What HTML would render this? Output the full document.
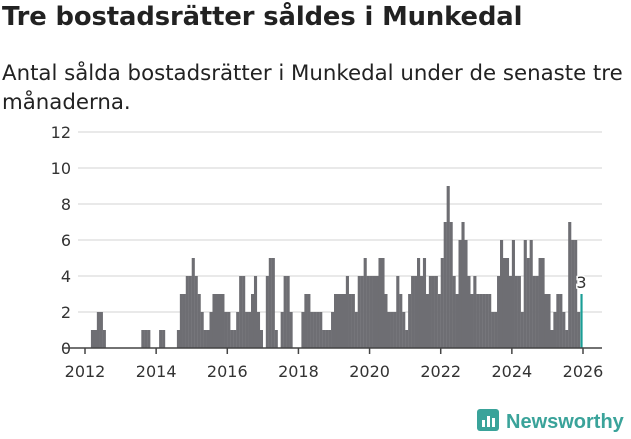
<!DOCTYPE html>
<html><head><meta charset="utf-8"><style>
body{margin:0;width:631px;height:439px;background:#fff;font-family:"DejaVu Sans","Liberation Sans",sans-serif;overflow:hidden;position:relative}
h1{position:absolute;left:2px;top:2px;margin:0;font-size:25.8px;font-weight:bold;color:#222;letter-spacing:-0.1px}
p{position:absolute;left:2px;top:59px;margin:0;font-size:21.3px;line-height:29px;color:#222;width:630px}
svg{position:absolute;left:0;top:0}
</style></head><body>
<h1>Tre bostadsrätter såldes i Munkedal</h1>
<p>Antal sålda bostadsrätter i Munkedal under de senaste tre månaderna.</p>
<svg width="631" height="439">
<g id="grid"></g><g id="bars"></g><g id="axis"></g>
<g>
<rect x="477" y="409" width="22" height="22" rx="3" fill="#3aa39a"/>
<rect x="482" y="420" width="3" height="7" fill="#fff"/><rect x="487" y="416" width="3" height="11" fill="#fff"/><rect x="492" y="418" width="3" height="9" fill="#fff"/>
<text x="506" y="428" font-size="20" font-weight="bold" fill="#3aa39a" font-family="Liberation Sans, sans-serif">Newsworthy</text>
</g>
</svg>
<script>
const years=[2012,2014,2016,2018,2020,2022,2024,2026];
const yTicks=[0,2,4,6,8,10,12];
const startYear=2012;
const values=[
0,0,1,1,2,2,1,0,0,0,0,0,
0,0,0,0,0,0,0,1,1,1,0,0,
0,1,1,0,0,0,0,1,3,3,4,4,
5,4,3,2,1,1,2,3,3,3,3,2,
2,1,1,2,4,4,2,2,3,4,2,1,
0,4,5,5,1,0,2,4,4,2,0,0,
0,2,3,3,2,2,2,2,1,1,1,2,
3,3,3,3,4,3,3,2,4,4,5,4,
4,4,4,5,5,3,2,2,2,4,3,2,
1,3,4,4,5,4,5,3,4,4,4,3,
5,7,9,7,4,3,6,7,6,4,3,4,
3,3,3,3,3,2,2,4,6,5,5,4,
6,4,4,2,6,5,6,4,4,5,5,3,
3,1,2,3,3,2,1,7,6,6,2,3];
const NS="http://www.w3.org/2000/svg";
const x0=85,x1=583,yb=348,yt=132;
const xs=m=>x0+(x1-x0)*m/168;
const ys=v=>yb-(yb-yt)*v/12;
function mk(t,a,p){const e=document.createElementNS(NS,t);for(const k in a)e.setAttribute(k,a[k]);p.appendChild(e);return e;}
const grid=document.getElementById('grid'),bars=document.getElementById('bars'),axis=document.getElementById('axis');
yTicks.forEach(v=>{
 if(v>0){const l=mk('line',{x1:78,x2:602,y1:ys(v),y2:ys(v),stroke:'#e2e2e2','stroke-width':1.5},grid);
 
 }
 const t=mk('text',{x:71,y:ys(v)+6,'text-anchor':'end','font-size':16,fill:'#333'},grid);t.textContent=v;
 
 
});
const step=(x1-x0)/168;
values.forEach((v,i)=>{
 if(!v)return;
 const last=i===values.length-1;
 const r=mk('rect',{x:xs(i)+(last?0.4:0),y:ys(v),width:last?step-0.8:step+0.15,height:yb-ys(v),fill:last?'#1a9e96':'#6e6e73'},bars);
 
 
 if(last){const t=mk('text',{x:xs(i)+step/2,y:ys(v)-6,'text-anchor':'middle','font-size':16,fill:'#333',stroke:'#fff','stroke-width':3,'paint-order':'stroke'},bars);t.textContent=v;
 
 }
});
const al=mk('line',{x1:62,x2:602,y1:yb,y2:yb,stroke:'#444','stroke-width':1.5},axis);


years.forEach(y=>{
 const x=xs((y-startYear)*12);
 mk('line',{x1:x,x2:x,y1:yb,y2:yb+6,stroke:'#444','stroke-width':1.5},axis);
 const t=mk('text',{x:x,y:377,'text-anchor':'middle','font-size':16,fill:'#333'},axis);t.textContent=y;
 
 
});
</script>
</body></html>
